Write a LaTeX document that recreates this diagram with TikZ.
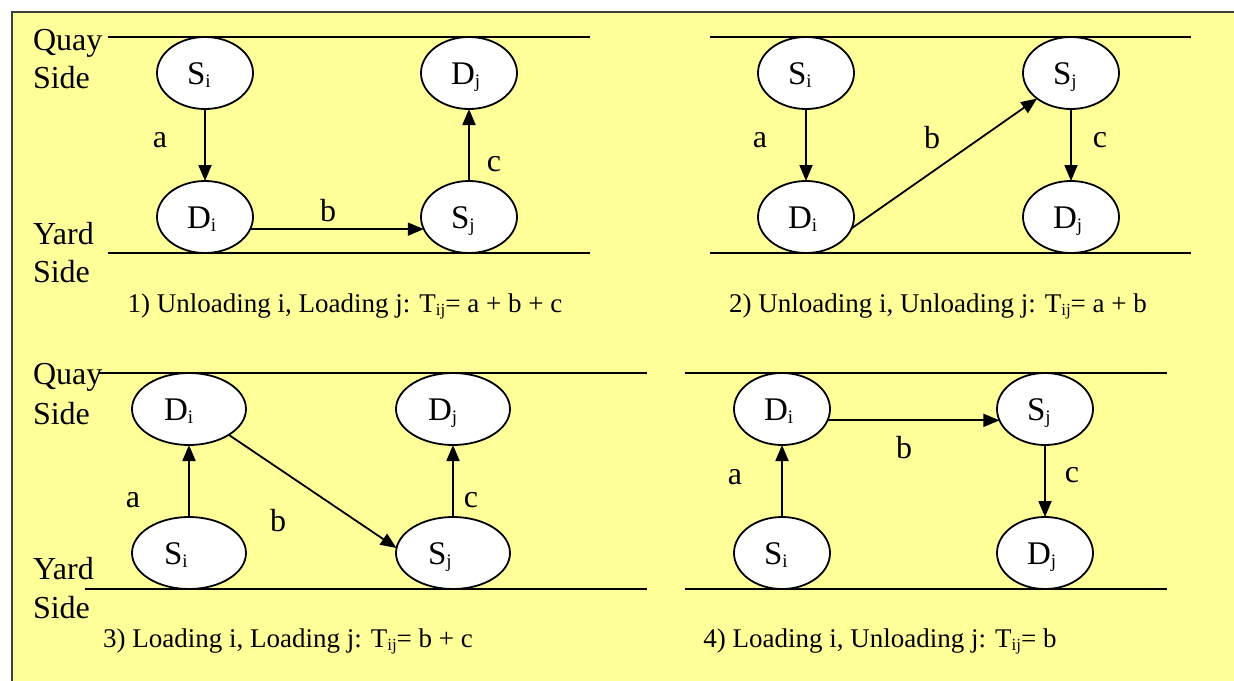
\documentclass[tikz,border=0pt]{standalone}
\usepackage{fontspec}
\setmainfont{Liberation Serif}
\usetikzlibrary{arrows.meta,shapes.geometric}
\definecolor{bgyellow}{RGB}{255,255,153}
\definecolor{framegray}{RGB}{64,64,64}
\newcommand\sbs[1]{\raisebox{-3pt}{\fontsize{19}{19}\selectfont #1}}
\newcommand\csb[1]{\raisebox{-3pt}{\fontsize{17}{17}\selectfont #1}}
\begin{document}
\begin{tikzpicture}[x=1pt,y=-1pt,
  every node/.style={inner sep=0pt, outer sep=0pt},
  big/.style={font=\fontsize{32}{36}\selectfont},
  captext/.style={font=\fontsize{27}{30}\selectfont, anchor=base},
  sidetext/.style={big, anchor=base west},
  lane/.style={line width=1.9pt},
  state/.style={ellipse, draw, fill=white, line width=1.8pt, minimum width=96pt, minimum height=72pt, text width=36pt, align=left, text height=23pt, text depth=0pt, font=\fontsize{33}{36}\selectfont},
  wide/.style={minimum width=114pt, text width=50pt},
  arr/.style={line width=1.8pt, -{Triangle[length=16pt,width=13pt]}},
  lbl/.style={big, anchor=center}
]
\useasboundingbox (0,0) rectangle (1234,680);
\fill[bgyellow] (12,12) rectangle (1240,690);
\draw[framegray, line width=2.5pt] (12,692) -- (12,12) -- (1240,12);

% ---------- Panel 1 ----------
\draw[lane] (108,37) -- (590,37);
\draw[lane] (108,253) -- (590,253);
\node[sidetext] (q1) at (33,50) {Quay};
\node[sidetext] (q1s) at (33,88) {Side};
\node[sidetext] (y1) at (33,244) {Yard};
\node[sidetext] (y1s) at (33,282) {Side};
\node[state] (p1si) at (205,73) {S\sbs{i}};
\node[state] (p1dj) at (469,73) {D\sbs{j}};
\node[state] (p1di) at (205,217) {D\sbs{i}};
\node[state] (p1sj) at (469,217) {S\sbs{j}};
\draw[arr] (p1si) -- (p1di);
\draw[arr] (p1di.-15) -- (p1sj.195);
\draw[arr] (p1sj) -- (p1dj);
\node[lbl] (p1a) at (160,140) {a};
\node[lbl] (p1b) at (328,211) {b};
\node[lbl] (p1c) at (494,164) {c};
\node[captext] (cap1) at (345,312) {1) Unloading i, Loading j: T\csb{ij}= a + b + c};

% ---------- Panel 2 ----------
\draw[lane] (710,37) -- (1191,37);
\draw[lane] (710,253) -- (1191,253);
\node[state] (p2si) at (806,73) {S\sbs{i}};
\node[state] (p2sj) at (1071,73) {S\sbs{j}};
\node[state] (p2di) at (806,217) {D\sbs{i}};
\node[state] (p2dj) at (1071,217) {D\sbs{j}};
\draw[arr] (p2si) -- (p2di);
\draw[arr] (p2di.-14) -- (p2sj.217);
\draw[arr] (p2sj) -- (p2dj);
\node[lbl] (p2a) at (760,140) {a};
\node[lbl] (p2b) at (932,138) {b};
\node[lbl] (p2c) at (1100,140) {c};
\node[captext] (cap2) at (938,312) {2) Unloading i, Unloading j: T\csb{ij}= a + b};

% ---------- Panel 3 ----------
\draw[lane] (99,373) -- (647,373);
\draw[lane] (85,589) -- (647,589);
\node[sidetext] (q3) at (33,384) {Quay};
\node[sidetext] (q3s) at (33,424) {Side};
\node[sidetext] (y3) at (33,579) {Yard};
\node[sidetext] (y3s) at (33,618) {Side};
\node[state, wide] (p3di) at (189,409) {D\sbs{i}};
\node[state, wide] (p3dj) at (453,409) {D\sbs{j}};
\node[state, wide] (p3si) at (189,553) {S\sbs{i}};
\node[state, wide] (p3sj) at (453,553) {S\sbs{j}};
\draw[arr] (p3si) -- (p3di);
\draw[arr] (p3di.-33) -- (p3sj.175);
\draw[arr] (p3sj) -- (p3dj);
\node[lbl] (p3a) at (133,500) {a};
\node[lbl] (p3b) at (278,521) {b};
\node[lbl] (p3c) at (471,500) {c};
\node[captext] (cap3) at (288,647) {3) Loading i, Loading j: T\csb{ij}= b + c};

% ---------- Panel 4 ----------
\draw[lane] (685,373) -- (1167,373);
\draw[lane] (685,589) -- (1167,589);
\node[state] (p4di) at (782,409) {D\sbs{i}};
\node[state] (p4sj) at (1045,409) {S\sbs{j}};
\node[state] (p4si) at (782,553) {S\sbs{i}};
\node[state] (p4dj) at (1045,553) {D\sbs{j}};
\draw[arr] (p4si) -- (p4di);
\draw[arr] (p4di.-14) -- (p4sj.194);
\draw[arr] (p4sj) -- (p4dj);
\node[lbl] (p4a) at (735,477) {a};
\node[lbl] (p4b) at (904,448) {b};
\node[lbl] (p4c) at (1072,475) {c};
\node[captext] (cap4) at (880,647) {4) Loading i, Unloading j: T\csb{ij}= b};
\end{tikzpicture}
\end{document}
